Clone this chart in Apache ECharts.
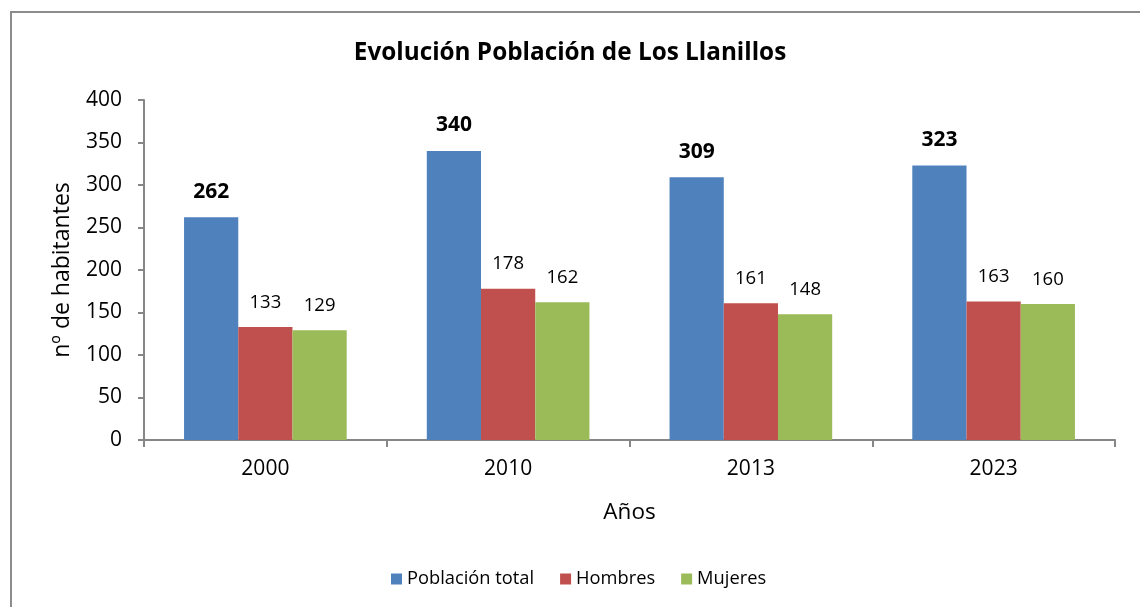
<!DOCTYPE html>
<html>
<head>
<meta charset="utf-8">
<script src="https://cdn.jsdelivr.net/npm/echarts@6/dist/echarts.min.js"></script>
<style>
  html, body { margin: 0; padding: 0; background: #fff; overflow: hidden; }
  #frame {
    position: absolute; left: 10px; top: 11px; width: 1200px; height: 700px;
    border-left: 2px solid #8c8c8c; border-top: 2px solid #8c8c8c;
  }
  #chart { position: absolute; left: 0; top: 0; width: 1140px; height: 607px; }
</style>
</head>
<body>
<div id="frame"></div>
<div id="chart"></div>
<script>
const years = ['2000', '2010', '2013', '2023']
const total = [262, 340, 309, 323]
const hombres = [133, 178, 161, 163]
const mujeres = [129, 162, 148, 160]
const yTicks = [0, 50, 100, 150, 200, 250, 300, 350, 400]

const font = '"Open Sans", sans-serif'
const chart = echarts.init(document.getElementById('chart'))

const option = {
  backgroundColor: 'transparent',
  textStyle: { fontFamily: font },
  animation: false,
  title: {
    text: 'Evolución Población de Los Llanillos',
    left: 'center',
    top: 36,
    textStyle: { fontFamily: font, fontSize: 24.3, fontWeight: 'bold', color: '#000' }
  },
  grid: { left: 144, right: 25, top: 100, bottom: 167, containLabel: false },
  legend: {
    bottom: 14,
    left: 386,
    itemWidth: 11,
    itemHeight: 11,
    itemGap: 26,
    icon: 'rect',
    textStyle: { fontFamily: font, fontSize: 18.3, color: '#000' },
    data: ['Población total', 'Hombres', 'Mujeres']
  },
  xAxis: {
    type: 'category',
    data: years,
    name: 'Años',
    nameLocation: 'middle',
    nameGap: 61,
    nameTextStyle: { fontFamily: font, fontSize: 22.5, color: '#000' },
    axisLine: { lineStyle: { color: '#868686', width: 2 } },
    axisTick: { show: true, length: 7, lineStyle: { color: '#868686', width: 2 } },
    axisLabel: { fontFamily: font, fontSize: 21, color: '#000', margin: 19 },
    splitLine: { show: false }
  },
  yAxis: {
    type: 'value',
    min: yTicks[0],
    max: yTicks[yTicks.length - 1],
    interval: yTicks[1] - yTicks[0],
    name: 'nº de habitantes',
    nameLocation: 'middle',
    nameGap: 70,
    nameTextStyle: { fontFamily: font, fontSize: 23, color: '#000' },
    axisLine: { show: true, lineStyle: { color: '#868686', width: 2 } },
    axisTick: { show: true, length: 6, lineStyle: { color: '#868686', width: 2 } },
    axisLabel: { fontFamily: font, fontSize: 21, color: '#000', margin: 22 },
    splitLine: { show: false }
  },
  series: [
    {
      name: 'Población total',
      type: 'bar',
      data: total,
      barGap: '0%',
      barCategoryGap: '33%',
      itemStyle: { color: '#4F81BD' },
      label: {
        show: true, position: 'top', distance: 15,
        fontFamily: font, fontSize: 21, fontWeight: 'bold', color: '#000'
      }
    },
    {
      name: 'Hombres',
      type: 'bar',
      data: hombres,
      itemStyle: { color: '#C0504D' },
      label: { show: true, position: 'top', distance: 15, fontFamily: font, fontSize: 18.5, color: '#000' }
    },
    {
      name: 'Mujeres',
      type: 'bar',
      data: mujeres,
      itemStyle: { color: '#9BBB59' },
      label: { show: true, position: 'top', distance: 15, fontFamily: font, fontSize: 18.5, color: '#000' }
    }
  ]
}

chart.setOption(option)
</script>
</body>
</html>
